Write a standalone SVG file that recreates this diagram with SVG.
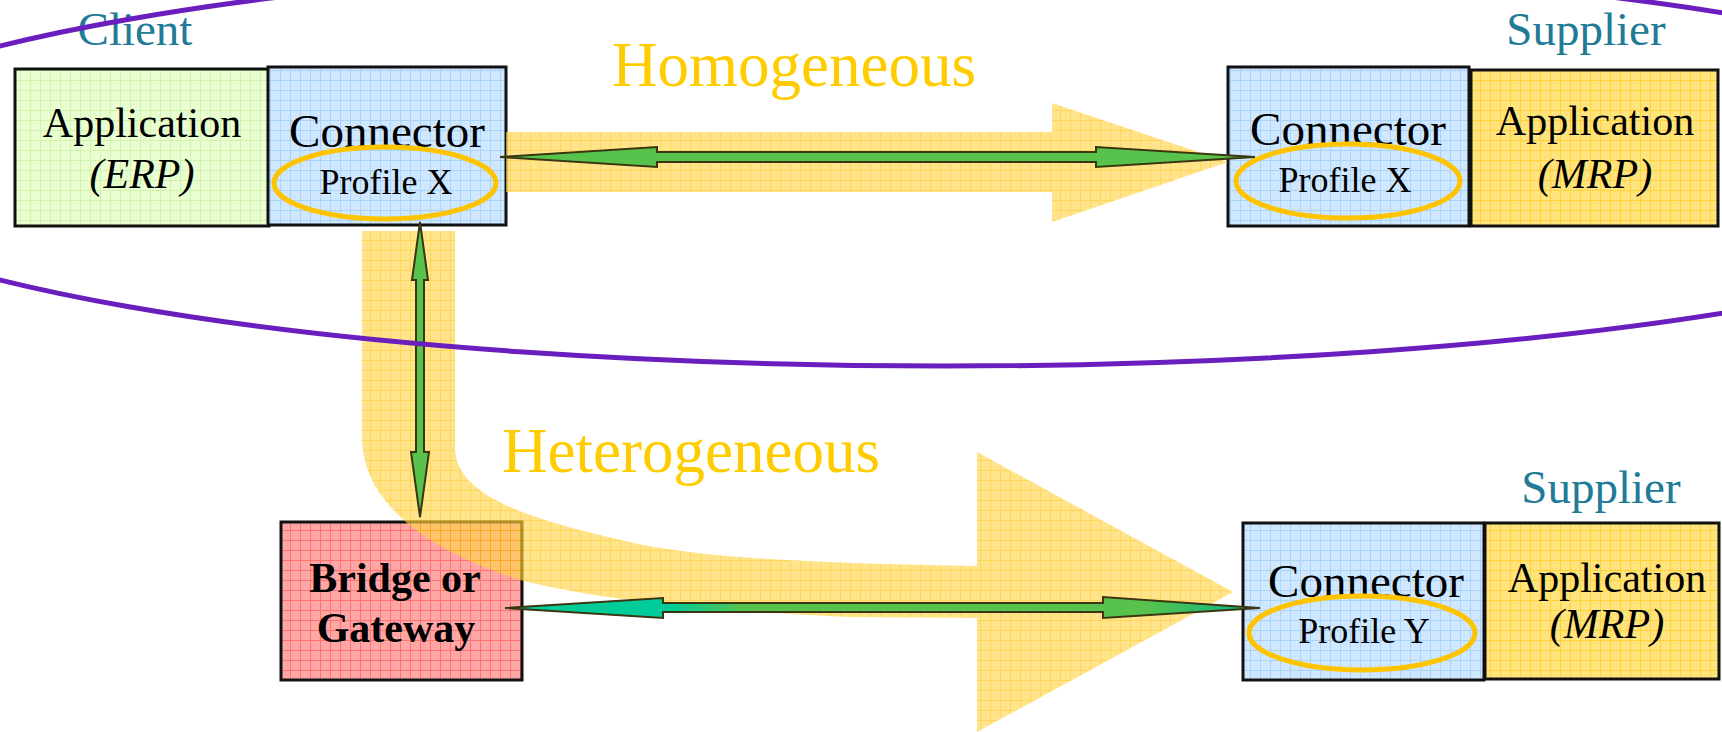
<svg xmlns="http://www.w3.org/2000/svg" width="1722" height="732" viewBox="0 0 1722 732">
<style>
.box{stroke:#111;stroke-width:3}
.prof{fill:none;stroke:#FFC400;stroke-width:5}
.t{font-family:"Liberation Serif","Times New Roman",serif;fill:#000;text-anchor:middle}
.app{font-size:42px}
.con{font-size:47px}
.pf{font-size:36px}
.lbl{font-family:"Liberation Serif","Times New Roman",serif;font-size:47px;fill:#217A96;text-anchor:middle}
.big{font-family:"Liberation Serif","Times New Roman",serif;font-size:63px;fill:#FFCC00;text-anchor:middle}
.yel{fill:url(#pYel);opacity:0.65}
.grn{stroke:#3A3612;stroke-width:2;stroke-linejoin:miter}
</style>
<defs>
<pattern id="pGreen" width="10" height="10" patternUnits="userSpaceOnUse"><rect width="10" height="10" fill="#E9FFD2"/><path d="M0 0.5H10M0.5 0V10" stroke="#D2F2AE" stroke-width="1"/></pattern>
<pattern id="pBlue" width="10" height="10" patternUnits="userSpaceOnUse"><rect width="10" height="10" fill="#CFE7FF"/><path d="M0 0.5H10M0.5 0V10" stroke="#A9D3F8" stroke-width="1"/></pattern>
<pattern id="pGold" width="10" height="10" patternUnits="userSpaceOnUse"><rect width="10" height="10" fill="#FFE47E"/><path d="M0 0.5H10M0.5 0V10" stroke="#FFD13A" stroke-width="1"/></pattern>
<pattern id="pRed" width="10" height="10" patternUnits="userSpaceOnUse"><rect width="10" height="10" fill="#FFA6A6"/><path d="M0 0.5H10M0.5 0V10" stroke="#FF7373" stroke-width="1"/></pattern>
<pattern id="pYel" width="10" height="10" patternUnits="userSpaceOnUse"><rect width="10" height="10" fill="#FFD64C"/><path d="M0 0.5H10M0.5 0V10" stroke="#FFC000" stroke-width="1"/></pattern>
<linearGradient id="gBot" x1="505" y1="0" x2="1260" y2="0" gradientUnits="userSpaceOnUse">
<stop offset="0" stop-color="#00CC99"/><stop offset="0.22" stop-color="#00CC99"/><stop offset="0.32" stop-color="#58C34C"/><stop offset="0.85" stop-color="#58C34C"/><stop offset="1" stop-color="#00B48A"/>
</linearGradient>
</defs>
<rect width="1722" height="732" fill="#fff"/>

<g id="app-erp">
<rect class="box" x="15" y="69" width="254" height="157" fill="url(#pGreen)"/>
<text class="t app" x="142" y="137">Application</text>
<text class="t app" x="142" y="188" font-style="italic">(ERP)</text>
</g>
<g id="connector-x-client">
<rect class="box" x="268" y="67" width="238" height="158" fill="url(#pBlue)"/>
<text class="t con" x="387" y="147">Connector</text>
<ellipse class="prof" cx="385" cy="183" rx="111" ry="36"/>
<text class="t pf" x="386" y="194">Profile X</text>
</g>
<g id="connector-x-supplier">
<rect class="box" x="1228" y="67" width="241" height="159" fill="url(#pBlue)"/>
<text class="t con" x="1348" y="145">Connector</text>
<ellipse class="prof" cx="1348" cy="181" rx="112" ry="37"/>
<text class="t pf" x="1345" y="192">Profile X</text>
</g>
<g id="app-mrp-top">
<rect class="box" x="1471" y="70" width="247" height="156" fill="url(#pGold)"/>
<text class="t app" x="1595" y="135">Application</text>
<text class="t app" x="1595" y="188" font-style="italic">(MRP)</text>
</g>
<g id="bridge">
<rect class="box" x="281" y="522" width="241" height="158" fill="url(#pRed)"/>
<text class="t app" x="395" y="592" font-weight="bold">Bridge or</text>
<text class="t app" x="396" y="642" font-weight="bold">Gateway</text>
</g>
<g id="connector-y">
<rect class="box" x="1243" y="523" width="241" height="157" fill="url(#pBlue)"/>
<text class="t con" x="1366" y="597">Connector</text>
<ellipse class="prof" cx="1362" cy="633" rx="113" ry="37"/>
<text class="t pf" x="1364" y="643">Profile Y</text>
</g>
<g id="app-mrp-bottom">
<rect class="box" x="1485" y="523" width="234" height="156" fill="url(#pGold)"/>
<text class="t app" x="1607" y="592">Application</text>
<text class="t app" x="1607" y="638" font-style="italic">(MRP)</text>
</g>

<g id="labels">
<text class="lbl" x="135" y="45">Client</text>
<text class="lbl" x="1586" y="45">Supplier</text>
<text class="lbl" x="1601" y="503">Supplier</text>
<text class="big" x="794" y="86">Homogeneous</text>
<text class="big" x="691" y="472">Heterogeneous</text>
</g>

<g id="connectors">
<path id="homogeneous-band" class="yel" d="M506,132 L1052,132 L1052,103 L1228,162 L1052,222 L1052,192 L506,192 Z"/>
<path id="heterogeneous-band" class="yel" d="M362,231 L455,231 L455,450 C458,500 540,522 643,545 C720,560 850,564 977,566 L977,452 L1233,592 L977,732 L977,618 L850,617 C700,610 600,600 520,580 C420,548 364,500 362,440 Z"/>
<path id="homo-arrow" class="grn" fill="#58C34C" d="M500,157 L657,147 L657,152 L1096,152 L1096,147 L1255,157 L1096,167 L1096,162 L657,162 L657,167 Z"/>
<path id="vert-arrow" class="grn" fill="#58C34C" d="M420,222 L428,280 L424,280 L424,452 L429,452 L420,517 L411,452 L416,452 L416,280 L412,280 Z"/>
<path id="hetero-arrow" class="grn" fill="url(#gBot)" d="M505,608 L663,598 L663,603 L1103,603 L1103,597 L1260,608 L1103,618 L1103,612 L663,612 L663,618 Z"/>
</g>

<g id="domain">
<ellipse cx="945" cy="163" rx="1156" ry="203" fill="none" stroke="#6B1EBE" stroke-width="5"/>
</g>
</svg>
